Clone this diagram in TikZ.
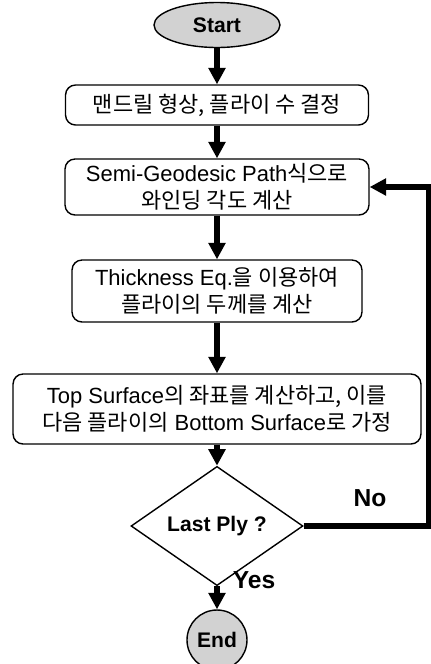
\documentclass[tikz,border=0pt]{standalone}
\usepackage{fontspec}
\setmainfont{Liberation Sans}
\newfontfamily\kr{Noto Sans CJK KR}
\usetikzlibrary{shapes.geometric,arrows.meta}

\begin{document}
\begin{tikzpicture}[x=0.02cm,y=-0.02cm,
    box/.style={draw, rounded corners=0.2cm, line width=0.8pt, align=center, inner sep=0pt,
      font=\fontsize{12.5}{15.5}\selectfont},
    term/.style={draw, fill=gray!35, line width=0.8pt, inner sep=0pt,
      font=\fontsize{12}{14}\selectfont\bfseries},
    flow/.style={line width=2.9pt, -{Triangle[length=0.33cm,width=0.33cm]}},
    lbl/.style={font=\fontsize{14}{16}\selectfont\bfseries}]
  \useasboundingbox (0,0) rectangle (431,664);

  \node[term, ellipse, minimum width=2.52cm, minimum height=0.9cm] (start) at (217,25) {Start};
  \node[box, minimum width=6.06cm, minimum height=0.8cm] (mandrel) at (217,105) {{\kr 맨드릴 형상, 플라이 수 결정}};
  \node[box, minimum width=6.08cm, minimum height=1.12cm] (geodesic) at (217,187) {Semi-Geodesic Path{\kr 식으로}\\{\kr 와인딩 각도 계산}};
  \node[box, minimum width=5.8cm, minimum height=1.24cm] (thick) at (217,291) {Thickness Eq.{\kr 을 이용하여}\\{\kr 플라이의 두께를 계산}};
  \node[box, minimum width=8.16cm, minimum height=1.4cm] (surface) at (217,409) {Top Surface{\kr 의 좌표를 계산하고, 이를}\\{\kr 다음 플라이의} Bottom Surface{\kr 로 가정}};
  \node[draw, diamond, line width=0.8pt, inner sep=0pt, minimum width=3.44cm, minimum height=1.24cm,
    font=\fontsize{12}{14}\selectfont\bfseries] (last) at (217,526) {Last Ply ?};
  \node[term, circle, minimum size=1.2cm] (end) at (217,640) {End};
  \coordinate (back) at (429,526);

  \draw[flow] (start) -- (mandrel);
  \draw[flow] (mandrel) -- (geodesic);
  \draw[flow] (geodesic) -- (thick);
  \draw[flow] (thick) -- (surface);
  \draw[flow] (surface) -- (last);
  \draw[flow] (last) -- (end);
  \draw[flow] (last.east) -- (back) |- (geodesic.east);

  \node[lbl] (no) at (370,498) {No};
  \node[lbl] (yes) at (254,580) {Yes};
\end{tikzpicture}
\end{document}
